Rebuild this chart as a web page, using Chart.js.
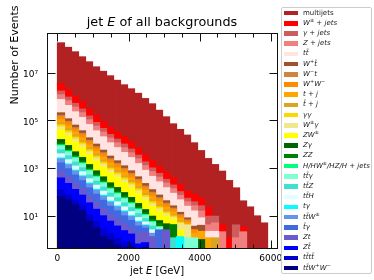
<!DOCTYPE html>
<html lang="en">
<head>
<meta charset="UTF-8">
<title>jet E of all backgrounds</title>
<script src="https://cdn.jsdelivr.net/npm/chart.js"></script>
<style>
  body { margin: 0; background: #fff; font-family: 'DejaVu Sans', sans-serif; color: #000; }
  .wrap { position: relative; width: 374px; height: 280px; overflow: hidden; }
  canvas { position: absolute; left: 0; top: 0; }
  .titulo { position: absolute; left: 62px; width: 200px; top: 16px; text-align: center; font-size: 12.8px; line-height: 1; white-space: nowrap; }
  .ylabel { position: absolute; left: -45px; width: 120px; height: 12px; top: 49px; text-align: center; font-size: 11px; line-height: 12px; white-space: nowrap; transform: rotate(-90deg); color: #000; }
  .xlabel { position: absolute; left: 97px; width: 120px; top: 266px; text-align: center; font-size: 10px; line-height: 1; white-space: nowrap; }
  .legenda { position: absolute; left: 281px; top: 7px; width: 91px; height: 267px; box-sizing: border-box; border: 1px solid #cccccc; border-radius: 2px; background: #fff; }
  .item { height: 10.21px; display: flex; align-items: center; }
  .cor { flex: none; width: 14px; height: 4.5px; margin-left: 2px; margin-right: 5px; }
  .nome { font-size: 7px; line-height: 1; white-space: nowrap; color: #222; }
  .mat { font-style: italic; }
  sup { font-size: 5px; line-height: 0; vertical-align: 0; position: relative; top: -2.6px; }
</style>
</head>
<body>
<div class="wrap">
  <canvas id="myChart" width="374" height="280"></canvas>
  <div class="titulo">jet <i>E</i> of all backgrounds</div>
  <div class="ylabel">Number of Events</div>
  <div class="xlabel">jet <i>E</i> [GeV]</div>
  <div class="legenda" id="legenda"></div>
</div>

<script>
  // bin centres (GeV), 30 bins of ~197 GeV
  const binCenters = [98.5, 295.5, 492.5, 689.5, 886.5, 1083.5, 1280.5, 1477.5, 1674.5, 1871.5,
    2068.5, 2265.5, 2462.5, 2659.5, 2856.5, 3053.5, 3250.5, 3447.5, 3644.5, 3841.5,
    4038.5, 4235.5, 4432.5, 4629.5, 4826.5, 5023.5, 5220.5, 5417.5, 5614.5, 5811.5]

  const xTicks = [0, 2000, 4000, 6000]
  const xMinorTicks = [500, 1000, 1500, 2500, 3000, 3500, 4500, 5000, 5500]
  const yTicks = [10, 1000, 100000, 10000000]
  const yTickLabels = ['10\u00b9', '10\u00b3', '10\u2075', '10\u2077']

  // legend order (top of legend = top of stack)
  const seriesNames = ['multijets', 'W<sup>±</sup> + jets', 'γ + jets', 'Z + jets', 'tt̄', 'W<sup>+</sup>t̄', 'W<sup>−</sup>t',
    'W<sup>+</sup>W<sup>−</sup>', 't + j', 't̄ + j', 'γγ', 'W<sup>±</sup>γ', 'ZW<sup>±</sup>', 'Zγ', 'ZZ',
    'H/HW<sup>±</sup>/HZ/H + jets', 'tt̄γ', 'tt̄Z', 'tt̄H', 'tγ', 'tt̄W<sup>±</sup>', 't̄γ', 'Zt', 'Zt̄', 'tt̄tt̄',
    'tt̄W<sup>+</sup>W<sup>−</sup>']
  const seriesColors = ['#b22222', '#ff0000', '#cd5c5c', '#f08080', '#ffe4e1', '#a0522d', '#cd853f', '#ff8c00',
    '#ffa500', '#daa520', '#ffd700', '#f0e68c', '#ffff00', '#006400', '#008000', '#00ff7f', '#7fffd4',
    '#40e0d0', '#e0ffff', '#00ffff', '#6495ed', '#4169e1', '#6a5acd', '#0000ff', '#0000cd', '#000080']

  const multijets = [1.73e8, 1.12e8, 7.3e7, 4.5e7, 2.78e7, 1.71e7, 1.11e7, 7.24e6, 4.68e6, 3.03e6,
    2.06e6, 1.335e6, 8.07e5, 4.85e5, 2.6e5, 1.38e5, 7.0e4, 4.06e4, 2.36e4, 1.12e4,
    5245, 2440, 1370, 724, 293, 141, 38, 23, 9.7, 4.9]
  const wJets = [1.7e6, 9.5e5, 5.2e5, 3.0e5, 1.52e5, 8.2e4, 4.6e4, 2.6e4, 1.64e4, 1.01e4,
    6300, 3500, 1820, 1010, 597, 335, 192, 101, 53, 40,
    29.5, 13.1, 0, 2.0, 1.16, 0, 1.2, 0, 0, 0]
  const gammaJets = [5.0e5, 2.8e5, 1.52e5, 8.8e4, 4.5e4, 2.4e4, 1.36e4, 7600, 4800, 3000,
    1850, 1030, 535, 298, 176, 98, 56, 30, 15.5, 12,
    10.2, 5.3, 4.5, 0, 0, 2.9, 0, 0, 0, 0]
  const zJets = [4.24e5, 2.37e5, 1.29e5, 7.5e4, 3.8e4, 2.06e4, 1.15e4, 6400, 4100, 2500,
    1560, 870, 454, 252, 149, 84, 48, 25, 13, 10,
    7.3, 1.9, 2.7, 2.07, 0, 1.16, 2.07, 0, 0, 0]
  const ttbar = [5.32e5, 2.98e5, 1.62e5, 9.4e4, 4.75e4, 2.58e4, 1.44e4, 8100, 5100, 3200,
    1960, 1090, 570, 317, 187, 105, 60, 32, 16.5, 12,
    4.1, 1.0, 1.0, 0, 0, 0, 0, 0, 0, 0]
  const wPlusTbar = [4.4e4, 2.46e4, 1.34e4, 7700, 3900, 2130, 1190, 670, 425, 262,
    162, 90, 47, 26, 15.4, 8.7, 5.0, 2.6, 1.36, 1.0,
    1.7, 0, 0, 0, 0, 0, 0, 0, 0, 0]
  const wMinusT = [2.2e4, 1.23e4, 6700, 3900, 1960, 1070, 600, 334, 213, 131,
    81, 45, 23.5, 13, 7.7, 4.3, 2.5, 1.3, 0.68, 0,
    0, 0, 0, 0, 0, 0, 0, 0, 0, 0]
  const wPlusWMinus = [3.45e4, 1.93e4, 1.05e4, 6100, 3100, 1670, 935, 524, 334, 205,
    127, 71, 37, 20.5, 12, 6.8, 3.9, 2.05, 1.07, 0.8,
    0, 0, 0, 0, 0, 0, 0, 0, 0, 0]
  const tJ = [2.61e4, 1.46e4, 7900, 4600, 2330, 1270, 707, 397, 252, 155,
    96, 54, 28, 15.5, 9.2, 5.1, 2.9, 1.55, 0.8, 0.6,
    1.2, 1.16, 0, 0, 0, 0, 0, 0, 0, 0]
  const tbarJ = [1.36e4, 7600, 4100, 2390, 1210, 660, 369, 207, 132, 81,
    50, 28, 14.6, 8.1, 4.8, 2.7, 1.5, 0.8, 0, 0,
    0, 0, 1.16, 0, 0, 0, 0, 0, 0, 0]
  const gammaGamma = [1.12e4, 6300, 3400, 1970, 1000, 543, 304, 170, 108, 67,
    41, 23, 12, 6.7, 3.9, 2.2, 1.27, 0.67, 0, 0,
    0, 0, 0, 0, 0, 0, 0, 0, 0, 0]
  const wGamma = [1.2e4, 6700, 3650, 2110, 1070, 582, 325, 182, 116, 71,
    44, 24.6, 12.8, 7.1, 4.2, 2.4, 1.36, 2.1, 2.9, 0,
    0, 0, 0, 0, 0, 0, 0, 0, 0, 0]
  const zW = [2.52e4, 1.41e4, 7700, 4400, 2250, 1220, 683, 383, 244, 150,
    93, 52, 27, 15, 8.8, 5.0, 2.8, 1.2, 0, 0,
    0, 0, 0, 0, 0, 0, 0, 0, 0, 0]
  const zGamma = [4200, 2350, 1280, 740, 375, 204, 114, 64, 41, 25,
    15.5, 8.6, 4.5, 2.5, 1.5, 2.0, 0, 0, 0, 0,
    0.98, 0, 0, 0, 0, 0, 0, 0, 0, 0]
  const zZ = [1950, 1090, 593, 343, 174, 95, 53, 30, 19, 11.6,
    7.2, 4.0, 2.1, 1.2, 1.2, 0, 3.0, 0, 0, 0,
    0, 0, 0, 0, 0, 0, 0, 0, 0, 0]
  const higgs = [860, 482, 261, 151, 77, 42, 23, 13, 8.3, 5.1,
    3.2, 1.8, 0.92, 0.5, 0, 0, 0, 0, 0, 0,
    0, 0, 0, 0, 0, 0, 0, 0, 0, 0]
  const ttGamma = [2690, 1510, 818, 473, 240, 130, 73, 41, 26, 16,
    9.9, 5.5, 2.9, 1.6, 0.9, 0, 0, 0, 1.16, 1.16,
    0, 0, 0, 0, 0, 0, 0, 0, 0, 0]
  const ttZ = [1830, 1025, 556, 322, 163, 89, 50, 28, 17.7, 10.9,
    6.8, 3.75, 1.96, 1.1, 0, 0, 1.16, 0, 0, 0,
    0, 0, 0, 0, 0, 0, 0, 0, 0, 0]
  const ttH = [1240, 694, 377, 218, 111, 60, 34, 19, 12, 7.4,
    4.6, 2.5, 1.3, 0.7, 0, 0, 0, 0, 0, 0,
    0, 0, 0, 0, 0, 0, 0, 0, 0, 0]
  const tGamma = [240, 134, 73, 42, 21, 11.6, 6.5, 3.6, 2.3, 1.4,
    0.89, 0.49, 0.26, 0, 0, 0, 0, 1.3, 0, 0,
    0, 0, 0, 0, 0, 0, 0, 0, 0, 0]
  const ttW = [765, 428, 233, 135, 68, 37, 21, 11.6, 7.4, 4.6,
    2.8, 1.6, 0.82, 0.5, 0, 0, 0, 0, 0, 0,
    0, 0, 0, 0, 0, 0, 0, 0, 0, 0]
  const tbarGamma = [875, 490, 266, 154, 78, 42, 24, 13.3, 8.5, 5.2,
    3.2, 1.8, 0.94, 0, 2.5, 0, 0, 0, 0, 0,
    0, 0, 0, 0, 0, 0, 0, 0, 0, 0]
  const zT = [370, 207, 112, 65, 33, 18, 10, 5.6, 3.6, 2.2,
    1.37, 1.2, 1.3, 1.3, 0, 2.5, 0, 0, 0, 0,
    0, 0, 0, 0, 0, 0, 0, 0, 0, 0]
  const zTbar = [260, 146, 79, 46, 23, 12.6, 7.0, 4.0, 2.5, 1.55,
    0.96, 0.53, 0.28, 0, 0, 0, 0, 0, 0, 0,
    0, 0, 0, 0, 0, 0, 0, 0, 0, 0]
  const tttt = [56, 31, 17, 9.9, 5.0, 2.7, 1.5, 0.85, 0.54, 0.33,
    0.21, 0.11, 0, 0, 0, 0, 0, 0, 0, 0,
    0, 0, 0, 0, 0, 0, 0, 0, 0, 0]
  const ttWW = [61, 45, 28, 16, 6, 3, 1.3, 0.95, 0.59, 0.44,
    0.5, 0, 0.45, 0, 0, 0, 0, 0, 0, 0,
    0, 0, 0, 0, 0, 0, 0, 0, 0, 0]

  const seriesData = [multijets, wJets, gammaJets, zJets, ttbar, wPlusTbar, wMinusT, wPlusWMinus, tJ, tbarJ,
    gammaGamma, wGamma, zW, zGamma, zZ, higgs, ttGamma, ttZ, ttH, tGamma, ttW, tbarGamma, zT, zTbar, tttt, ttWW]

  // legend (html so the math bits can be italic / superscript)
  const legenda = document.getElementById('legenda')
  seriesNames.forEach((nome, i) => {
    const row = document.createElement('div')
    row.className = 'item'
    row.innerHTML = '<span class="cor" style="background:' + seriesColors[i] + '"></span>' +
      '<span class="nome' + (i > 0 ? ' mat' : '') + '">' + nome + '</span>'
    legenda.appendChild(row)
  })

  // first dataset is the bottom of the stack
  const datasets = seriesData.map((vals, i) => ({
    label: seriesNames[i],
    data: vals.map((v, j) => ({ x: binCenters[j], y: v > 0 ? v : null })),
    backgroundColor: seriesColors[i],
    borderWidth: 0,
    inflateAmount: 0.6,
    barPercentage: 1,
    categoryPercentage: 1
  })).reverse()

  const moldura = {
    id: 'moldura',
    afterDatasetsDraw(chart) {
      const { ctx, chartArea: a, scales: { x, y } } = chart
      const seg = (x1, y1, x2, y2) => { ctx.beginPath(); ctx.moveTo(x1, y1); ctx.lineTo(x2, y2); ctx.stroke() }
      ctx.save()
      ctx.strokeStyle = '#111'
      ctx.lineWidth = 1
      xTicks.forEach(v => {
        const p = Math.round(x.getPixelForValue(v)) + 0.5
        seg(p, a.bottom, p, a.bottom - 8.5)
        seg(p, a.top, p, a.top + 8.5)
      })
      xMinorTicks.forEach(v => {
        const p = Math.round(x.getPixelForValue(v)) + 0.5
        seg(p, a.bottom, p, a.bottom - 4.5)
        seg(p, a.top, p, a.top + 4.5)
      })
      yTicks.forEach(v => {
        const p = Math.round(y.getPixelForValue(v)) + 0.5
        seg(a.left, p, a.left + 8.5, p)
        seg(a.right, p, a.right - 8.5, p)
      })
      ctx.strokeRect(Math.round(a.left) + 0.5, Math.round(a.top) + 0.5,
        Math.round(a.right - a.left) - 1, Math.round(a.bottom - a.top) - 1)
      ctx.restore()
    }
  }

  const ctx = document.getElementById('myChart')
  new Chart(ctx, {
    type: 'bar',
    data: { datasets: datasets },
    plugins: [moldura],
    options: {
      responsive: false,
      animation: false,
      devicePixelRatio: 1,
      layout: { padding: { left: 0, top: 33, right: 96, bottom: 0 } },
      plugins: {
        legend: { display: false },
        tooltip: { enabled: false }
      },
      scales: {
        x: {
          type: 'linear',
          stacked: true,
          offset: false,
          min: -295,
          max: 6204,
          grid: { display: false, offset: false },
          border: { display: false },
          afterBuildTicks: s => { s.ticks = xTicks.map(v => ({ value: v })) },
          afterFit: s => { s.height = 31 },
          ticks: {
            autoSkip: false,
            maxRotation: 0,
            padding: -4,
            color: '#000',
            font: { family: 'DejaVu Sans', size: 9 },
            callback: v => String(v)
          }
        },
        y: {
          type: 'logarithmic',
          stacked: true,
          min: 0.4,
          max: 4.6e8,
          grid: { display: false },
          border: { display: false },
          afterBuildTicks: s => { s.ticks = yTicks.map(v => ({ value: v })) },
          afterFit: s => { s.width = 47 },
          ticks: {
            autoSkip: false,
            padding: 1,
            labelOffset: 2,
            color: '#000',
            font: { family: 'DejaVu Sans', size: 9 },
            callback: (v, i) => yTickLabels[i]
          }
        }
      }
    }
  })
</script>
</body>
</html>
